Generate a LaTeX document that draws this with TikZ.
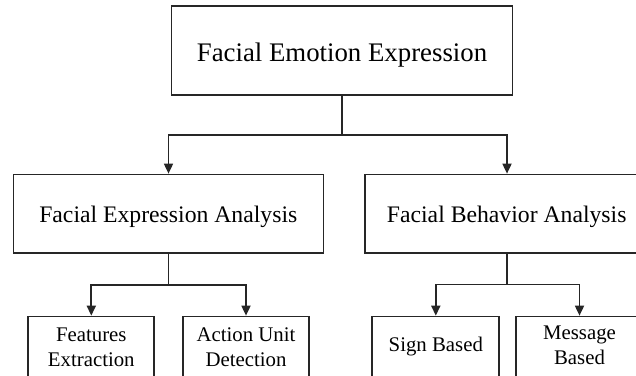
\documentclass[tikz,border=0pt]{standalone}
\usepackage{fontspec}
\setmainfont{Liberation Serif}
\usetikzlibrary{arrows.meta}
\tikzset{
  box/.style={draw=black!85, line width=1.7pt, inner sep=0pt, fill=none},
  lbl/.style={anchor=base, inner sep=0pt, text=black},
  ftop/.style={font=\fontsize{26.8}{32}\selectfont},
  fmid/.style={font=\fontsize{23.7}{28}\selectfont},
  fbot/.style={font=\fontsize{20.8}{25}\selectfont},
  conn/.style={draw=black!85, line width=1.7pt},
  arr/.style={conn, -{Triangle[length=10pt,width=9pt]}}
}
\begin{document}
\begin{tikzpicture}[x=1pt,y=-1pt]
\useasboundingbox (0,0) rectangle (636,375);
\clip (0,0) rectangle (636,375);
\fill[white] (0,0) rectangle (636,375);
% boxes
\node[box, minimum width=341pt, minimum height=89.5pt] (top) at (342,50.4) {};
\node[box, minimum width=310pt, minimum height=78.5pt] (fea) at (168.5,213.75) {};
\node[box, minimum width=284pt, minimum height=78.5pt] (fba) at (507,213.75) {};
\node[box, minimum width=126pt, minimum height=84pt] (fe) at (91.3,358.5) {};
\node[box, minimum width=126.5pt, minimum height=84pt] (au) at (246,358.5) {};
\node[box, minimum width=127pt, minimum height=84pt] (sb) at (435.8,358.5) {};
\node[box, minimum width=127pt, minimum height=84pt] (mb) at (579.5,358.5) {};
% texts
\node[lbl, ftop] (ttop) at (342,61) {Facial Emotion Expression};
\node[lbl, fmid] (tfea) at (168.3,222.7) {Facial Expression Analysis};
\node[lbl, fmid] (tfba) at (506.7,222.7) {Facial Behavior Analysis};
\node[lbl, fbot] (tfe1) at (91.3,341.7) {Features};
\node[lbl, fbot] (tfe2) at (91.3,366.7) {Extraction};
\node[lbl, fbot] (tau1) at (246,341.7) {Action Unit};
\node[lbl, fbot] (tau2) at (246,366.7) {Detection};
\node[lbl, fbot] (tsb) at (435.8,351.7) {Sign Based};
\node[lbl, fbot] (tmb1) at (579.5,339.5) {Message};
\node[lbl, fbot] (tmb2) at (579.5,364.5) {Based};
% connectors
\coordinate (j1) at (342,135);
\coordinate (j2) at (168.5,285);
\coordinate (j3) at (507,284.5);
\draw[conn] (top.south) -- (j1);
\draw[arr] (j1) -| (fea.north);
\draw[arr] (j1) -| (fba.north);
\draw[conn] (fea.south) -- (j2);
\draw[arr] (j2) -| (fe.north);
\draw[arr] (j2) -| (au.north);
\draw[conn] (fba.south) -- (j3);
\draw[arr] (j3) -| (sb.north);
\draw[arr] (j3) -| (mb.north);
\end{tikzpicture}
\end{document}
